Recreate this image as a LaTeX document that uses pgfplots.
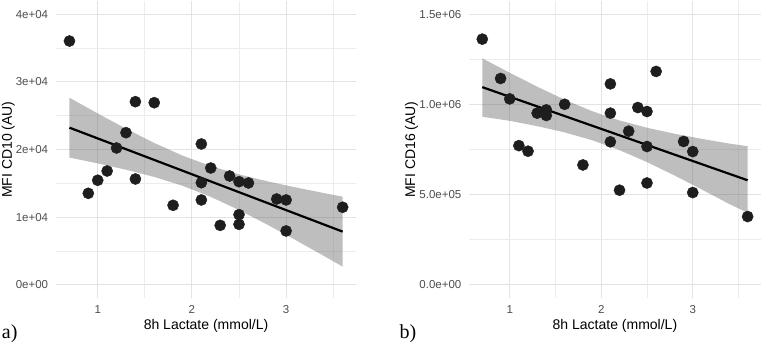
\documentclass[border=0pt]{standalone}
\usepackage{fontspec}
\setmainfont{Liberation Sans}
\newfontfamily\serifpanel{Liberation Serif}
\usepackage{pgfplots}
\pgfplotsset{compat=1.18}
\definecolor{tickgray}{HTML}{4D4D4D}
\definecolor{gridmaj}{HTML}{E3E3E3}
\definecolor{gridmin}{HTML}{ECECEC}
\definecolor{ptcol}{HTML}{1E1E1E}
\definecolor{ribcol}{HTML}{626262}

\pgfplotsset{
  panel/.style={
    anchor=south west, scale only axis,
    axis line style={draw=none}, tick style={draw=none},
    major tick length=0pt, minor tick length=0pt,
    grid=both,
    major grid style={gridmaj, line width=1pt},
    minor grid style={gridmin, line width=0.7pt},
    xmin=0.555, xmax=3.745,
    xtick={1,2,3}, xticklabels={\mbox{1},\mbox{2},\mbox{3}},
    minor xtick={1.5,2.5,3.5},
    scaled y ticks=false,
    ticklabel style={font=\fontsize{11.5}{13}\selectfont, text=tickgray, inner sep=0pt},
    xticklabel style={anchor=north, yshift=-6.5pt},
    yticklabel style={anchor=east, xshift=-7.5pt},
    label style={font=\fontsize{14}{16}\selectfont, text=black, inner sep=0pt},
    xlabel={8h Lactate (mmol/L)},
    xlabel style={at={([yshift=-30.8pt]rel axis cs:0.5,0)}, anchor=base},
    clip=false,
  },
  pts/.style={only marks, mark=*, mark size=5.6pt, color=ptcol, mark options={draw=none, fill=ptcol}},
  rib/.style={draw=none, fill=ribcol, fill opacity=0.41},
  fit/.style={black, line width=2.2pt, no marks},
}

\pgfplotstableread{
x y
0.7 36040
0.9 13540
1.0 15470
1.1 16840
1.2 20240
1.3 22500
1.4 27080
1.4 15660
1.6 26930
1.8 11770
2.1 20830
2.1 15110
2.1 12560
2.2 17280
2.3 8810
2.4 16100
2.5 15260
2.5 10390
2.5 8960
2.6 15070
2.9 12700
3.0 12560
3.0 7980
3.6 11480
}\cdten

\pgfplotstableread{
x y
0.7 27665
1.0 25339
1.3 23091
1.6 20982
1.9 19111
2.2 17569
2.5 16340
2.8 15318
3.1 14415
3.4 13578
3.6 13043
3.6 2715
3.4 4298
3.1 6639
2.8 8914
2.5 11070
2.2 13019
1.9 14657
1.6 15964
1.3 17033
1.0 17963
0.7 18815
}\cdtenrib

\pgfplotstableread{
x y
0.7 1362000
0.9 1144000
1.0 1031000
1.1 772000
1.2 741000
1.3 952000
1.4 970000
1.4 939000
1.6 1001000
1.8 665000
2.1 1114000
2.1 952000
2.1 793000
2.2 525000
2.3 852000
2.4 983000
2.5 961000
2.5 767000
2.5 565000
2.6 1183000
2.9 795000
3.0 739000
3.0 512000
3.6 379000
}\cdsixteen

\pgfplotstableread{
x y
0.7 1255800
1.0 1175800
1.3 1098700
1.6 1026500
1.9 962900
2.2 911400
2.5 871000
2.8 838000
3.1 809400
3.4 783200
3.6 769000
3.6 400000
3.4 448200
3.1 528600
2.8 606800
2.5 680600
2.2 747000
1.9 802100
1.6 845300
1.3 879900
1.0 909400
0.7 932000
}\cdsixteenrib

\begin{document}
\begin{tikzpicture}
\useasboundingbox (0,0) rectangle (762pt,344pt);

\begin{axis}[panel,
  at={(55.8pt,45.5pt)}, width=300.5pt, height=297.8pt,
  ymin=-2000, ymax=42000,
  ytick={0,10000,20000,30000,40000},
  yticklabels={\mbox{0e+00},\mbox{1e+04},\mbox{2e+04},\mbox{3e+04},\mbox{4e+04}},
  minor ytick={5000,15000,25000,35000},
  ylabel={MFI CD10 (AU)},
  ylabel style={at={([xshift=-43.9pt]rel axis cs:0,0.5)}, anchor=base, rotate=0},
]
\addplot[pts] table[x=x,y=y] {\cdten};
\addplot[rib] table[x=x,y=y] {\cdtenrib} -- cycle;
\addplot[fit] coordinates {(0.7,23240) (3.6,7880)};
\end{axis}

\begin{axis}[panel,
  at={(469pt,45.5pt)}, width=291.9pt, height=297.8pt,
  ymin=-75000, ymax=1575000,
  ytick={0,500000,1000000,1500000},
  yticklabels={\mbox{0.0e+00},\mbox{5.0e+05},\mbox{1.0e+06},\mbox{1.5e+06}},
  minor ytick={250000,750000,1250000},
  ylabel={MFI CD16 (AU)},
  ylabel style={at={([xshift=-53.8pt]rel axis cs:0,0.5)}, anchor=base, rotate=0},
]
\addplot[pts] table[x=x,y=y] {\cdsixteen};
\addplot[rib] table[x=x,y=y] {\cdsixteenrib} -- cycle;
\addplot[fit] coordinates {(0.7,1096000) (3.6,580000)};
\end{axis}

\node[anchor=base west, inner sep=0pt, font=\serifpanel\fontsize{20}{22}\selectfont] at (1.7pt,5pt) {a)};
\node[anchor=base west, inner sep=0pt, font=\serifpanel\fontsize{20}{22}\selectfont] at (399.3pt,5pt) {b)};
\end{tikzpicture}
\end{document}
